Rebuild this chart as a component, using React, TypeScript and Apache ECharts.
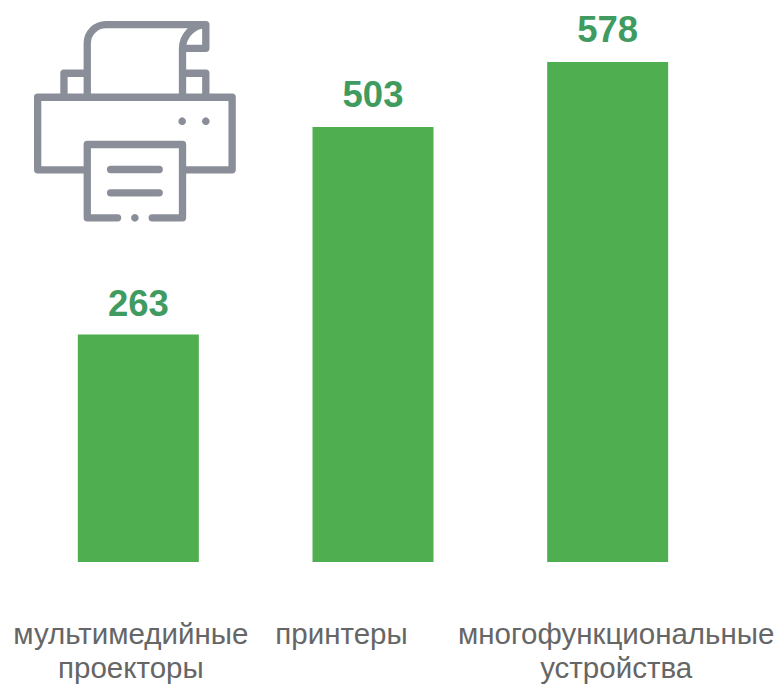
import React, { useEffect, useRef } from "react";
import * as echarts from "echarts";

const categories = ["мультимедийные\nпроекторы", "принтеры", "многофункциональные\nустройства"];
const values = [263, 503, 578];
const labelPadding = [
  [0, 15, 0, 0],
  [0, 63, 0, 0],
  [0, 0, 0, 17],
];
const labelDistance = [12, 14, 14];
const printerPath =
  "M202 262V100A56 56 0 0 1 258 44H558V115H488 M488 262V115A72 72 0 0 1 558 44 " +
  "M202 190H132V262 M488 190H558V262 " +
  "M202 480H53V262H637V480H488 " +
  "M293 624H202V404H488V624H397 " +
  "M272 479H418 M272 549H418";
const printerDots = [
  [487, 334],
  [558, 334],
  [345, 624],
];
const ICON = "#898e98";

echarts.graphic.registerShape("printer", echarts.graphic.extendPath(printerPath, {}) as any);

export default function App() {
  const ref = useRef<HTMLDivElement>(null);
  useEffect(() => {
    document.body.style.margin = "0";
    const chart = echarts.init(ref.current!, null, { renderer: "svg" });
    chart.setOption({
      animation: false,
      grid: { left: 21, right: 55, top: 62, bottom: 122, outerBoundsMode: "none" },
      xAxis: {
        type: "category",
        data: categories.map((c, i) => ({ value: c, textStyle: { padding: labelPadding[i] } })),
        axisLine: { show: false },
        axisTick: { show: false },
        axisLabel: {
          margin: 54,
          interval: 0,
          hideOverlap: false,
          color: "#666666",
          fontFamily: "Liberation Sans",
          fontSize: 29.5,
          lineHeight: 34,
        },
      },
      yAxis: { type: "value", min: 0, max: 578, show: false, splitLine: { show: false } },
      series: [
        {
          type: "bar",
          data: values.map((value, i) => ({ value, label: { distance: labelDistance[i] } })),
          barWidth: 121,
          itemStyle: { color: "#4faf50" },
          label: {
            show: true,
            position: "top",
            color: "#3f9b5f",
            fontFamily: "Liberation Sans",
            fontWeight: "bold",
            fontSize: 36.5,
          },
        },
      ],
      graphic: [
        {
          type: "group",
          x: 20,
          y: 10,
          scaleX: 1 / 3,
          scaleY: 1 / 3,
          children: [
            {
              type: "printer",
              style: { fill: "none", stroke: ICON, lineWidth: 22, lineCap: "round", lineJoin: "round" },
            },
            ...printerDots.map(([cx, cy]) => ({
              type: "circle",
              shape: { cx, cy, r: 11.5 },
              style: { fill: ICON },
            })),
          ],
        },
      ],
    });
    return () => chart.dispose();
  }, []);
  return <div ref={ref} style={{ width: 780, height: 684 }} />;
}
